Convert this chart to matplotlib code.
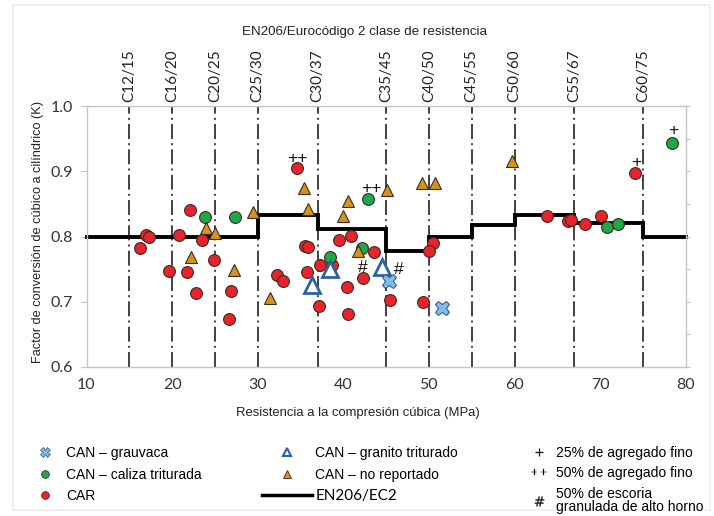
import matplotlib
matplotlib.use("Agg")
import matplotlib.pyplot as plt
from matplotlib.lines import Line2D
from matplotlib.patches import Rectangle

# ---------------- data ----------------
car_x = [17.0, 17.3, 16.2, 22.1, 20.8, 23.5, 24.9, 19.6, 21.7, 22.8, 26.9, 26.6,
         32.3, 32.9, 34.6, 35.5, 35.9, 35.8, 37.2, 37.3, 38.7, 39.5, 40.9, 40.4,
         40.5, 43.6, 42.3, 45.5, 49.3, 50.5, 50.0, 63.8, 66.2, 66.6, 68.2, 70.1, 74.1]
car_y = [0.802, 0.799, 0.783, 0.840, 0.802, 0.794, 0.764, 0.747, 0.745, 0.713, 0.716, 0.673,
         0.741, 0.732, 0.905, 0.785, 0.784, 0.746, 0.694, 0.756, 0.756, 0.795, 0.801, 0.722,
         0.681, 0.776, 0.736, 0.702, 0.699, 0.790, 0.778, 0.832, 0.824, 0.826, 0.819, 0.832, 0.897]

caliza_x = [23.8, 27.4, 38.5, 42.9, 42.2, 70.8, 72.1, 78.4]
caliza_y = [0.830, 0.830, 0.769, 0.857, 0.783, 0.815, 0.819, 0.944]

noreport_x = [24.0, 25.0, 29.5, 22.2, 27.2, 31.4, 35.4, 35.9, 40.5, 40.0, 41.7, 45.1, 49.2, 50.7, 59.7]
noreport_y = [0.813, 0.806, 0.837, 0.768, 0.749, 0.705, 0.875, 0.842, 0.854, 0.831, 0.778, 0.871, 0.882, 0.882, 0.915]

granito_x = [36.4, 38.4, 44.5]
granito_y = [0.725, 0.750, 0.754]

grauvaca_x = [45.3, 51.5]
grauvaca_y = [0.732, 0.690]

# EN206 / EC2 step line (cube strength boundaries and K values)
en_x = [10, 15, 20, 25, 30, 37, 45, 50, 55, 60, 67, 75, 80]
en_k = [0.800, 0.800, 0.800, 0.800, 0.833, 0.811, 0.778, 0.800, 0.818, 0.833, 0.821, 0.800, 0.800]

# strength classes
class_cube = [15, 20, 25, 30, 37, 45, 50, 55, 60, 67, 75]
class_labels = ["C12/15", "C16/20", "C20/25", "C25/30", "C30/37", "C35/45",
                "C40/50", "C45/55", "C50/60", "C55/67", "C60/75"]

# annotations: (symbol, x, y of the marked point)
notes_sym = ["++", "++", "+", "+", "#", "#"]
notes_x = [34.6, 42.9, 74.1, 78.4, 42.3, 45.3]
notes_y = [0.905, 0.857, 0.897, 0.944, 0.736, 0.732]
notes_off = [(0, 7), (2, 8), (1, 8), (1, 8.5), (0, 8), (7, 8)]

x_ticks = [10, 20, 30, 40, 50, 60, 70, 80]
y_ticks = [0.6, 0.7, 0.8, 0.9, 1.0]

# ---------------- styling ----------------
RED = "#e8232b"
GREEN = "#1fa84a"
ORANGE = "#d4941c"
BLUE = "#2a62a8"
LBLUE = "#7fbde6"
EDGE = "#3b2b20"
NARROW = ["Liberation Sans Narrow", "Liberation Sans", "DejaVu Sans"]
SANS = ["Liberation Sans", "DejaVu Sans"]
TICKF = ["Lato", "DejaVu Sans"]

fig = plt.figure(figsize=(7.14, 5.16), dpi=100)
fig.patches.append(Rectangle((13 / 714, 1 - 510 / 516), (710 - 13) / 714, (510 - 5) / 516,
                             transform=fig.transFigure, fill=False, edgecolor="#ececec", lw=1.2))

ax = fig.add_axes([86.5 / 714, 1 - 367 / 516, (685.7 - 86.5) / 714, (367 - 106) / 516])
ax.set_xlim(10, 80)
ax.set_ylim(0.6, 1.0)

for s in ["left", "bottom", "right", "top"]:
    ax.spines[s].set_color("#c4c4c4")
    ax.spines[s].set_linewidth(1.0)

ax.set_xticks(x_ticks)
ax.set_yticks(y_ticks)
ax.set_xticklabels([str(v) for v in x_ticks], fontfamily=TICKF, fontsize=11.5, color="#333333")
ax.set_yticklabels(["%.1f" % v for v in y_ticks], fontfamily=TICKF, fontsize=11.5, color="#333333")
ax.tick_params(axis="x", length=0, pad=8)
ax.tick_params(axis="y", length=4, color="#c4c4c4", pad=6)

# right spine small ticks
axr = ax.twinx()
axr.set_ylim(0.6, 1.0)
axr.set_yticks([0.6, 0.65, 0.7, 0.75, 0.8, 0.85, 0.9, 0.95, 1.0])
axr.set_yticklabels([])
axr.tick_params(axis="y", length=3, color="#c4c4c4")
for s in ["left", "bottom", "right", "top"]:
    axr.spines[s].set_visible(False)

# class lines and labels
for c, lab in zip(class_cube, class_labels):
    ax.axvline(c, color="#222222", lw=1.2, linestyle=(0, (9, 2.5, 1.2, 2.5)), zorder=1)
    ax.text(c, 1.006, lab, rotation=90, ha="center", va="bottom", fontfamily=TICKF,
            fontsize=11, color="#222222", transform=ax.transData, clip_on=False)

# EN206 step
ax.plot(en_x, en_k, drawstyle="steps-post", color="black", lw=2.8, zorder=2,
        solid_joinstyle="miter", clip_on=False)

ms = 8.5
ax.plot(car_x, car_y, "o", ms=ms, mfc=RED, mec=EDGE, mew=0.8, zorder=4, ls="none")
ax.plot(caliza_x, caliza_y, "o", ms=ms, mfc=GREEN, mec=EDGE, mew=0.8, zorder=4, ls="none")
ax.plot(noreport_x, noreport_y, "^", ms=9, mfc=ORANGE, mec=EDGE, mew=0.8, zorder=4, ls="none")
ax.plot(granito_x, granito_y, "^", ms=11, mfc="white", mec=BLUE, mew=2.0, zorder=4, ls="none")
ax.plot(grauvaca_x, grauvaca_y, "X", ms=10.5, mfc=LBLUE, mec="#2a4f80", mew=0.7, zorder=4, ls="none")

for sym, x, y, off in zip(notes_sym, notes_x, notes_y, notes_off):
    ax.annotate(sym, (x, y), xytext=off, textcoords="offset points", ha="center",
                va="center", fontsize=12.5, fontfamily=SANS, color="#111111", zorder=5)

# titles
fig.text(365 / 714, 1 - 32 / 516, "EN206/Eurocódigo 2 clase de resistencia", ha="center",
         va="center", fontfamily=NARROW, fontsize=9.6, color="#222222")
fig.text(358 / 714, 1 - 413 / 516, "Resistencia a la compresión cúbica (MPa)", ha="center",
         va="center", fontfamily=NARROW, fontsize=9.4, color="#222222")
fig.text(38 / 714, 1 - 232 / 516, "Factor de conversión de cúbico a cilíndrico (K)", ha="center",
         va="center", rotation=90, fontfamily=NARROW, fontsize=9.2, color="#222222")

# legends
prop = {"family": SANS, "size": 10}
top = 1 - 446 / 516
h1 = [Line2D([], [], ls="none", marker="X", ms=7, mfc=LBLUE, mec="#2a4f80", mew=0.5),
      Line2D([], [], ls="none", marker="o", ms=5.5, mfc=GREEN, mec=EDGE, mew=0.6),
      Line2D([], [], ls="none", marker="o", ms=5.5, mfc=RED, mec=EDGE, mew=0.6)]
l1 = ["CAN – grauvaca", "CAN – caliza triturada", "CAR"]
h2 = [Line2D([], [], ls="none", marker="^", ms=6, mfc="white", mec=BLUE, mew=1.5),
      Line2D([], [], ls="none", marker="^", ms=6, mfc=ORANGE, mec=EDGE, mew=0.6),
      Line2D([], [], color="black", lw=2.5)]
l2 = ["CAN – granito triturado", "CAN – no reportado", "EN206/EC2"]
h3 = [Line2D([], [], ls="none", marker="+", ms=6, mew=0.9, color="#111111"),
      Line2D([], [], ls="none", marker="$++$", ms=11, mew=0.2, color="#111111"),
      Line2D([], [], ls="none", marker="$\\#$", ms=7, mew=0.2, color="#111111")]
l3 = ["25% de agregado fino", "50% de agregado fino", "50% de escoria\ngranulada de alto horno"]

leg1 = fig.legend(h1, l1, loc="upper left", bbox_to_anchor=(37 / 714, top), frameon=False,
                  handlelength=1.15, handletextpad=0.95, labelspacing=0.55, borderpad=0,
                  borderaxespad=0, prop=prop)
leg2 = fig.legend(h2, l2, loc="upper left", bbox_to_anchor=(262 / 714, top), frameon=False,
                  handlelength=3.6, handletextpad=0.25, labelspacing=0.55, borderpad=0,
                  borderaxespad=0, prop=prop)
leg3 = fig.legend(h3, l3, loc="upper left", bbox_to_anchor=(532 / 714, top), frameon=False,
                  handlelength=1.0, handletextpad=0.7, labelspacing=0.45, borderpad=0,
                  borderaxespad=0, prop=prop)
for t in leg2.get_texts()[2:]:
    t.set_fontfamily(TICKF)
    t.set_fontsize(11)
leg3.get_texts()[2].set_linespacing(0.95)

fig.savefig("out.png", dpi=100, facecolor="white")
